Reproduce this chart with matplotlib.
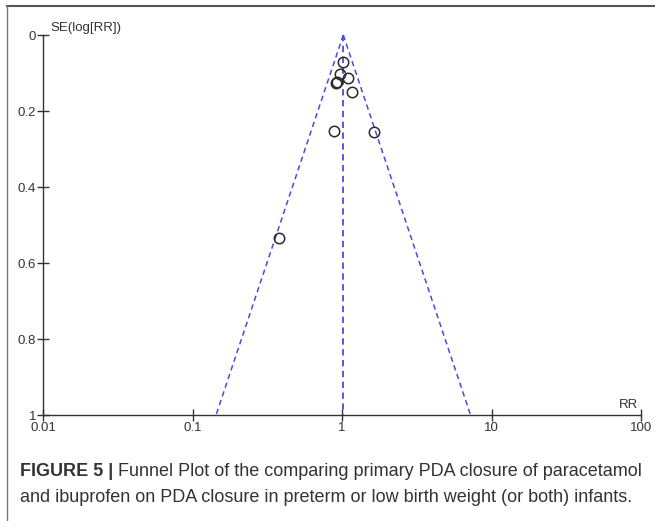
import numpy as np
import matplotlib
matplotlib.use("Agg")
import matplotlib.pyplot as plt
from matplotlib.lines import Line2D

# study estimates
rr = [1.02, 0.97, 1.09, 0.91, 0.93, 1.17, 0.88, 1.64, 0.38]
se = [0.072, 0.103, 0.114, 0.126, 0.123, 0.151, 0.253, 0.256, 0.533]
pooled_rr = 1.02
se_max = 1.0

x_ticks = [0.01, 0.1, 1, 10, 100]
x_tick_labels = ["0.01", "0.1", "1", "10", "100"]
y_ticks = [0, 0.2, 0.4, 0.6, 0.8, 1]
y_tick_labels = ["0", "0.2", "0.4", "0.6", "0.8", "1"]

caption_bold = "FIGURE 5 |"
caption_rest = (" Funnel Plot of the comparing primary PDA closure of paracetamol")
caption_line2 = ("and ibuprofen on PDA closure in preterm or low birth weight "
                 "(or both) infants.")

plt.rcParams['font.family'] = ['Liberation Sans', 'DejaVu Sans']

fig = plt.figure(figsize=(6.55, 5.21), dpi=100)
ax = fig.add_axes([43 / 655, 1 - 415 / 521, 598 / 655, 380 / 521])

blue = '#4a4ae0'
dash = (0, (3.5, 2.5))

# funnel limits
se_line = np.array([0.0, se_max])
ax.plot(pooled_rr * np.exp(-1.96 * se_line), se_line, color=blue,
        linestyle=dash, linewidth=1.1)
ax.plot(pooled_rr * np.exp(1.96 * se_line), se_line, color=blue,
        linestyle=dash, linewidth=1.1)
ax.plot([pooled_rr, pooled_rr], se_line, color=blue, linestyle=dash,
        linewidth=1.3)

ax.plot(rr, se, linestyle='none', marker='o', markersize=7.5,
        markerfacecolor='none', markeredgecolor='#2a2a2a',
        markeredgewidth=1.1)

ax.set_xscale('log')
ax.set_xlim(0.01, 100)
ax.set_ylim(1, 0)
ax.set_xticks(x_ticks)
ax.set_xticklabels(x_tick_labels)
ax.minorticks_off()
ax.set_yticks(y_ticks)
ax.set_yticklabels(y_tick_labels)

for side in ['top', 'right']:
    ax.spines[side].set_visible(False)
for side in ['left', 'bottom']:
    ax.spines[side].set_color('#333333')
    ax.spines[side].set_linewidth(1.0)

ax.tick_params(direction='inout', length=8, width=1.0, color='#333333',
               labelsize=9.5, labelcolor='#333333', pad=1)
ax.patch.set_alpha(0)

fig.text(50 / 655, 1 - 28 / 521, "SE(log[RR])", fontsize=9.5,
         color='#333333', ha='left', va='center')
fig.text(629 / 655, 1 - 405 / 521, "RR", fontsize=9.5, color='#333333',
         ha='center', va='center')

# caption
t = fig.text(20 / 655, 1 - 472 / 521, caption_bold, fontsize=13,
             fontweight='bold', color='#333333', va='center', ha='left')
fig.canvas.draw()
bb = t.get_window_extent()
fig.text(bb.x1 / 655, 1 - 472 / 521, caption_rest, fontsize=13,
         color='#333333', va='center', ha='left')
fig.text(20 / 655, 1 - 497 / 521, caption_line2, fontsize=13,
         color='#333333', va='center', ha='left')

# frame edges at top and left
fig.add_artist(Line2D([7 / 655, 1], [1 - 6 / 521, 1 - 6 / 521],
                      transform=fig.transFigure, color='#555555', linewidth=1.5))
fig.add_artist(Line2D([7 / 655, 7 / 655], [0, 1 - 6 / 521],
                      transform=fig.transFigure, color='#777777', linewidth=1.0))

fig.savefig("out.png", dpi=100)
